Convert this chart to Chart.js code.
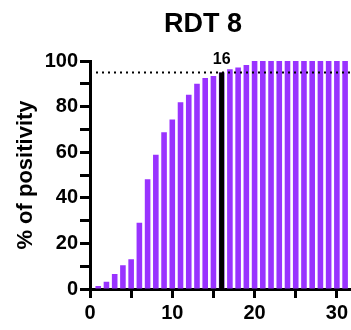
<!DOCTYPE html>
<html>
<head>
<meta charset="utf-8">
<script src="https://cdn.jsdelivr.net/npm/chart.js@4"></script>
<style>
  body { margin: 0; background: #fff; }
  #wrap { width: 351px; height: 330px; position: relative; }
</style>
</head>
<body>
<div id="wrap"><canvas id="rdtchart"></canvas></div>
<script>
var FONT = "'Liberation Sans', Arial, sans-serif";
var INK = 'rgb(0, 0, 0)';

/* data */
var days = [1, 2, 3, 4, 5, 6, 7, 8, 9, 10, 11, 12, 13, 14, 15, 16, 17, 18, 19, 20,
            21, 22, 23, 24, 25, 26, 27, 28, 29, 30, 31];
var positivity = [1.3, 3.2, 6.6, 10.4, 13, 29.1, 48.1, 58.9, 68.7, 74.3, 81.9, 85.2, 90, 92.5, 93.4, 95,
                  96.4, 97.2, 98.2, 100, 100, 100, 100, 100, 100, 100, 100, 100, 100, 100, 100];
var cutoffDay = 16;
var cutoffLevel = 95;
var xTickValues = [0, 5, 10, 15, 20, 25, 30];
var xTicks = [0, 10, 20, 30];
var yTicks = [0, 20, 40, 60, 80, 100];

var chartTitle = 'RDT 8';
var yTitle = '% of positivity';

var xMax = 31.7; // the figure is cut off just past 31

// title + "16" label drawn over the chart
var labelPlugin = {
  id: 'labels',
  afterDraw: function(chart) {
    var ctx = chart.ctx;
    var x = chart.scales.x, y = chart.scales.y;
    ctx.save();
    ctx.fillStyle = INK;
    ctx.textAlign = 'center';
    ctx.textBaseline = 'alphabetic';
    ctx.font = 'bold 27px ' + FONT;
    ctx.fillText(chartTitle, 203, 32);
    ctx.font = 'bold 16px ' + FONT;
    ctx.fillText(String(cutoffDay), x.getPixelForValue(cutoffDay), y.getPixelForValue(cutoffLevel) - 8);
    ctx.restore();
  }
};

var rdtchart = new Chart(document.getElementById('rdtchart'), {
  type: 'bar',
  data: {
    datasets: [{
      type: 'line',
      data: [{x: 0, y: cutoffLevel}, {x: xMax, y: cutoffLevel}],
      borderColor: INK,
      borderWidth: 2,
      borderDash: [2, 4],
      pointRadius: 0,
      order: 1
    }, {
      type: 'line',
      data: [{x: cutoffDay, y: 0}, {x: cutoffDay, y: cutoffLevel}],
      borderColor: INK,
      borderWidth: 5,
      pointRadius: 0,
      order: 0
    }, {
      type: 'bar',
      data: days.map(function(d, i) { return {x: d, y: positivity[i]}; }),
      backgroundColor: '#9933ff',
      categoryPercentage: 1,
      barPercentage: 0.68,
      order: 2
    }]
  },
  options: {
    responsive: true,
    maintainAspectRatio: false,
    animation: false,
    layout: { padding: { top: 61, right: 0, left: 0, bottom: 0 } },
    plugins: {
      legend: { display: false },
      tooltip: { enabled: false },
      title: { display: false }
    },
    scales: {
      x: {
        type: 'linear',
        min: 0,
        max: xMax,
        offset: false,
        afterBuildTicks: function(s) {
          s.ticks = xTickValues.map(function(v) { return {value: v}; });
        },
        afterFit: function(s) { s.height = 41; },
        border: { display: true, color: INK, width: 3 },
        grid: { offset: false, drawOnChartArea: false, tickColor: INK, tickWidth: 3, tickLength: 9 },
        ticks: {
          autoSkip: false,
          maxRotation: 0,
          padding: 3,
          color: INK,
          font: { family: FONT, size: 20, weight: 'bold' },
          callback: function(v) { return xTicks.indexOf(v) >= 0 ? v : ''; }
        }
      },
      y: {
        type: 'linear',
        min: 0,
        max: 100,
        afterFit: function(s) { s.width = 90; },
        border: { display: true, color: INK, width: 3 },
        grid: { drawOnChartArea: false, tickColor: INK, tickWidth: 3, tickLength: 10 },
        ticks: {
          stepSize: 10,
          autoSkip: false,
          padding: 2,
          color: INK,
          font: { family: FONT, size: 20, weight: 'bold' },
          callback: function(v) { return yTicks.indexOf(v) >= 0 ? v : ''; }
        },
        title: {
          display: true,
          text: yTitle,
          color: INK,
          font: { family: FONT, size: 22, weight: 'bold' },
          padding: { top: 13, bottom: 0 }
        }
      }
    }
  },
  plugins: [labelPlugin]
});
</script>
</body>
</html>
